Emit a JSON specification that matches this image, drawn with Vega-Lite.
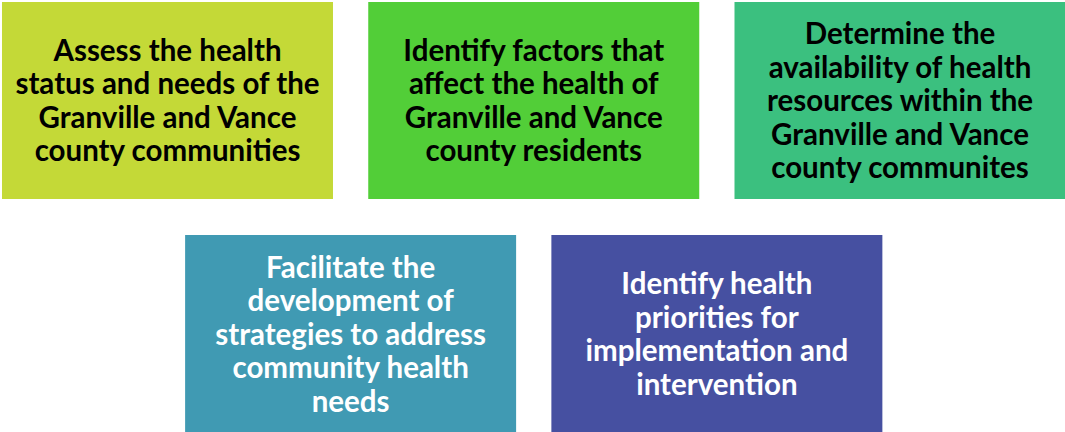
{
  "$schema": "https://vega.github.io/schema/vega-lite/v6.json",
  "width": 1065,
  "height": 432,
  "autosize": {"type": "none"},
  "padding": 0,
  "background": "white",
  "config": {"view": {"stroke": null}},
  "data": {
    "values": [
      {"id": "a", "col": 0, "row": 0, "n": 4, "lines": ["Assess the health", "status and needs of the", "Granville and Vance", "county communities"]},
      {"id": "b", "col": 1, "row": 0, "n": 4, "lines": ["Identify factors that", "affect the health of", "Granville and Vance", "county residents"]},
      {"id": "c", "col": 2, "row": 0, "n": 5, "lines": ["Determine the", "availability of health", "resources within the", "Granville and Vance", "county communites"]},
      {"id": "d", "col": 0.5, "row": 1, "n": 5, "lines": ["Facilitate the", "development of", "strategies to address", "community health", "needs"]},
      {"id": "e", "col": 1.5, "row": 1, "n": 4, "lines": ["Identify health", "priorities for", "implementation and", "intervention"]}
    ]
  },
  "encoding": {
    "x": {"field": "col", "type": "quantitative", "axis": null, "scale": {"domain": [-0.4573, 2.4505], "nice": false, "zero": false}},
    "y": {"field": "row", "type": "quantitative", "axis": null, "scale": {"domain": [-0.4313, 1.4227], "nice": false, "zero": false, "reverse": true}}
  },
  "layer": [
    {
      "mark": {"type": "rect", "width": 331, "height": 197},
      "encoding": {
        "color": {"field": "id", "type": "nominal", "legend": null, "scale": {"domain": ["a", "b", "c", "d", "e"], "range": ["#C4D937", "#52CE38", "#3BC07F", "#409AB3", "#4650A1"]}}
      }
    },
    {
      "transform": [{"filter": "datum.n == 4"}],
      "mark": {"type": "text", "font": "Lato", "fontWeight": "bold", "fontSize": 29.5, "lineHeight": 33.5, "align": "center", "baseline": "middle", "dy": -48.5},
      "encoding": {
        "text": {"field": "lines"},
        "color": {"condition": {"test": "datum.row == 1", "value": "white"}, "value": "black"}
      }
    },
    {
      "transform": [{"filter": "datum.n == 5"}],
      "mark": {"type": "text", "font": "Lato", "fontWeight": "bold", "fontSize": 29.5, "lineHeight": 33.5, "align": "center", "baseline": "middle", "dy": -65},
      "encoding": {
        "text": {"field": "lines"},
        "color": {"condition": {"test": "datum.row == 1", "value": "white"}, "value": "black"}
      }
    }
  ]
}
